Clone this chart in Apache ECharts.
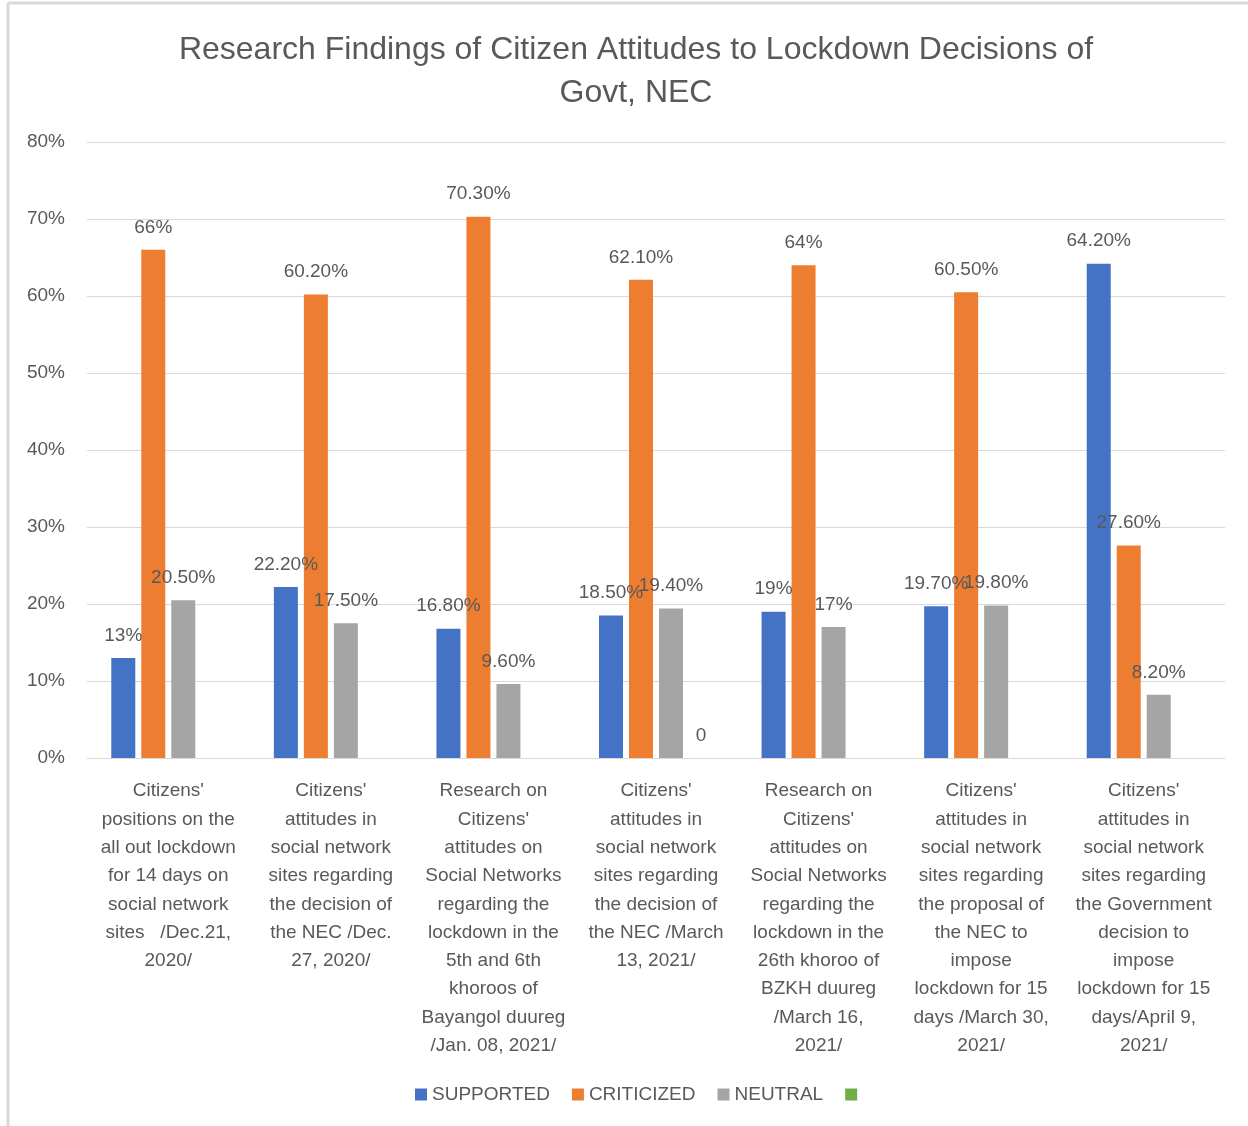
<!DOCTYPE html>
<html><head><meta charset="utf-8">
<script src="https://cdn.jsdelivr.net/npm/echarts@6/dist/echarts.min.js"></script>
<style>html,body{margin:0;padding:0;background:#fff}#c{width:1248px;height:1126px}</style>
</head><body><div id="c"></div>
<script>
const categories = [
  "Citizens'\npositions on the\nall out lockdown\nfor 14 days on\nsocial network\nsites   /Dec.21,\n2020/",
  "Citizens'\nattitudes in\nsocial network\nsites regarding\nthe decision of\nthe NEC /Dec.\n27, 2020/",
  "Research on\nCitizens'\nattitudes on\nSocial Networks\nregarding the\nlockdown in the\n5th and 6th\nkhoroos of\nBayangol duureg\n/Jan. 08, 2021/",
  "Citizens'\nattitudes in\nsocial network\nsites regarding\nthe decision of\nthe NEC /March\n13, 2021/",
  "Research on\nCitizens'\nattitudes on\nSocial Networks\nregarding the\nlockdown in the\n26th khoroo of\nBZKH duureg\n/March 16,\n2021/",
  "Citizens'\nattitudes in\nsocial network\nsites regarding\nthe proposal of\nthe NEC to\nimpose\nlockdown for 15\ndays /March 30,\n2021/",
  "Citizens'\nattitudes in\nsocial network\nsites regarding\nthe Government\ndecision to\nimpose\nlockdown for 15\ndays/April 9,\n2021/"
];
const supported = [13, 22.2, 16.8, 18.5, 19, 19.7, 64.2];
const criticized = [66, 60.2, 70.3, 62.1, 64, 60.5, 27.6];
const neutral = [20.5, 17.5, 9.6, 19.4, 17, 19.8, 8.2];
const other = [null, null, null, 0, null, null, null];
const supportedLabels = ["13%", "22.20%", "16.80%", "18.50%", "19%", "19.70%", "64.20%"];
const criticizedLabels = ["66%", "60.20%", "70.30%", "62.10%", "64%", "60.50%", "27.60%"];
const neutralLabels = ["20.50%", "17.50%", "9.60%", "19.40%", "17%", "19.80%", "8.20%"];
const otherLabels = ["", "", "", "0", "", "", ""];
const yTicks = [0, 10, 20, 30, 40, 50, 60, 70, 80];

const FONT = '"Liberation Sans", Arial, sans-serif';
const TXT = '#595959';
function mk(name, data, labels, color) {
  return {
    name: name, type: 'bar', data: data, barWidth: 24, barGap: '25%',
    itemStyle: { color: color },
    label: { show: true, position: 'top', distance: 13, color: TXT, fontSize: 19, fontFamily: FONT,
      formatter: p => labels[p.dataIndex] },
    z: 3
  };
}
const chart = echarts.init(document.getElementById('c'), null, { renderer: 'canvas' });
chart.setOption({
  animation: false,
  backgroundColor: '#fff',
  title: {
    text: 'Research Findings of Citizen Attitudes to Lockdown Decisions of\nGovt, NEC',
    left: 631, top: 24, textAlign: 'center',
    textStyle: { fontFamily: FONT, fontSize: 32, fontWeight: 'normal', color: TXT, lineHeight: 43 }
  },
  legend: {
    bottom: 17, left: 410, itemWidth: 12, itemHeight: 12, itemGap: 22,
    icon: 'rect',
    textStyle: { fontFamily: FONT, fontSize: 19, color: TXT },
    data: ['SUPPORTED', 'CRITICIZED', 'NEUTRAL', ' ']
  },
  grid: { left: 87, right: 23, top: 142, bottom: 368, containLabel: false },
  xAxis: {
    type: 'category', data: categories,
    axisLine: { lineStyle: { color: '#d9d9d9' } },
    axisTick: { show: false },
    axisLabel: { interval: 0, margin: 19, color: TXT, fontSize: 19, fontFamily: FONT, lineHeight: 28.3, align: 'center', verticalAlign: 'top' }
  },
  yAxis: {
    type: 'value', min: 0, max: 80, interval: 10,
    axisLine: { show: false }, axisTick: { show: false },
    splitLine: { lineStyle: { color: '#d9d9d9' } },
    axisLabel: { margin: 22, color: TXT, fontSize: 19, fontFamily: FONT, formatter: v => yTicks.includes(v) ? v + '%' : '' }
  },
  series: [
    mk('SUPPORTED', supported, supportedLabels, '#4472C4'),
    mk('CRITICIZED', criticized, criticizedLabels, '#ED7D31'),
    mk('NEUTRAL', neutral, neutralLabels, '#A5A5A5'),
    mk(' ', other, otherLabels, '#70AD47')
  ],
  graphic: [
    { type: 'line', shape: { x1: 8, y1: 3, x2: 1248, y2: 3 }, style: { stroke: '#d9d9d9', lineWidth: 3 } },
    { type: 'line', shape: { x1: 8, y1: 3, x2: 8, y2: 1126 }, style: { stroke: '#d9d9d9', lineWidth: 3 } }
  ]
});
</script></body></html>
